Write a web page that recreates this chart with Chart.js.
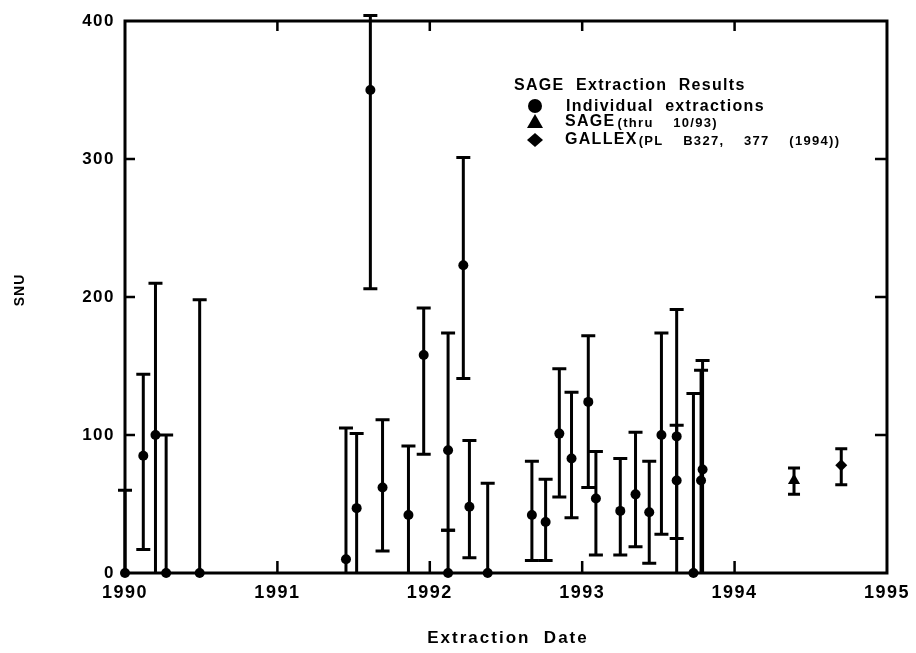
<!DOCTYPE html>
<html>
<head>
<meta charset="utf-8">
<title>SAGE Extraction Results</title>
<script src="https://cdn.jsdelivr.net/npm/chart.js@4.4.0/dist/chart.umd.min.js"></script>
<style>
  body { margin: 0; background: #fff; }
  #wrap { width: 916px; height: 653px; }
</style>
</head>
<body>
<div id="wrap"><canvas id="sageChart" width="916" height="653"></canvas></div>
<script>
// individual SAGE extractions (date, SNU, lower and upper end of error bar)
const extDates  = [1990.00, 1990.12, 1990.20, 1990.27, 1990.49, 1991.45, 1991.52, 1991.61, 1991.69, 1991.86,
                   1991.96, 1992.12, 1992.12, 1992.22, 1992.26, 1992.38, 1992.67, 1992.76, 1992.85, 1992.93,
                   1993.04, 1993.09, 1993.25, 1993.35, 1993.44, 1993.52, 1993.62, 1993.62, 1993.73, 1993.78,
                   1993.79];
const extValues = [0, 85, 100, 0, 0, 10, 47, 350, 62, 42,
                   158, 89, 0, 223, 48, 0, 42, 37, 101, 83,
                   124, 54, 45, 57, 44, 100, 99, 67, 0, 67,
                   75];
const extLow    = [0, 17, 0, 0, 0, 0, 0, 206, 16, 0,
                   86, 31, 0, 141, 11, 0, 9, 9, 55, 40,
                   62, 13, 13, 19, 7, 28, 0, 25, 0, 0,
                   0];
const extHigh   = [60, 144, 210, 100, 198, 105, 101, 404, 111, 92,
                   192, 174, 31, 301, 96, 65, 81, 68, 148, 131,
                   172, 88, 83, 102, 81, 174, 191, 107, 130, 147,
                   154];

// combined results
const sageDate = [1994.39];
const sageValue = [67];
const sageLow = [57];
const sageHigh = [76];

const gallexDate = [1994.70];
const gallexValue = [78];
const gallexLow = [64];
const gallexHigh = [90];

const yearTicks = [1990, 1991, 1992, 1993, 1994, 1995];
const snuTicks = [0, 100, 200, 300, 400];

const FONT = "'Liberation Sans', Arial, Helvetica, sans-serif";

function toPoints(xs, ys) {
    return xs.map((x, i) => ({ x: x, y: ys[i] }));
}

// error bars go under the markers
const errorBars = {
    id: 'errorBars',
    beforeDatasetsDraw(chart) {
        const ctx = chart.ctx;
        const xs = chart.scales.x;
        const ys = chart.scales.y;
        ctx.save();
        ctx.strokeStyle = '#000';
        ctx.lineCap = 'butt';
        ctx.lineWidth = 3;
        chart.data.datasets.forEach(ds => {
            ds.data.forEach((p, i) => {
                const x = xs.getPixelForValue(p.x);
                const yLo = ys.getPixelForValue(ds.errLow[i]);
                const yHi = ys.getPixelForValue(ds.errHigh[i]);
                const cap = ds.capHalf;
                ctx.beginPath();
                ctx.moveTo(x, yLo);
                ctx.lineTo(x, yHi);
                ctx.moveTo(x - cap, yHi);
                ctx.lineTo(x + cap, yHi);
                if (ds.errLow[i] > 0) {
                    ctx.moveTo(x - cap, yLo);
                    ctx.lineTo(x + cap, yLo);
                }
                ctx.stroke();
            });
        });
        ctx.restore();
    }
};

// box round the plot with inward ticks, axis titles and the legend block
const frameAndText = {
    id: 'frameAndText',
    beforeDraw(chart) {
        chart.ctx.letterSpacing = '1.5px';
    },
    afterDraw(chart) {
        const ctx = chart.ctx;
        const a = chart.chartArea;
        const xs = chart.scales.x;
        const ys = chart.scales.y;
        ctx.save();
        ctx.strokeStyle = '#000';
        ctx.lineWidth = 3;
        ctx.strokeRect(a.left, a.top, a.right - a.left, a.bottom - a.top);

        ctx.lineWidth = 2.5;
        ctx.beginPath();
        yearTicks.slice(1, -1).forEach(v => {
            const x = xs.getPixelForValue(v);
            ctx.moveTo(x, a.bottom);
            ctx.lineTo(x, a.bottom - 12);
            ctx.moveTo(x, a.top);
            ctx.lineTo(x, a.top + 10);
        });
        snuTicks.slice(1, -1).forEach(v => {
            const y = ys.getPixelForValue(v);
            ctx.moveTo(a.left, y);
            ctx.lineTo(a.left + 10, y);
            ctx.moveTo(a.right, y);
            ctx.lineTo(a.right - 12, y);
        });
        ctx.stroke();

        ctx.fillStyle = '#000';
        ctx.textBaseline = 'middle';

        // axis titles
        ctx.letterSpacing = '2px';
        ctx.font = 'bold 17px ' + FONT;
        ctx.textAlign = 'center';
        ctx.fillText('Extraction  Date', (a.left + a.right) / 2 + 2, 638);

        ctx.save();
        ctx.translate(20, 290);
        ctx.rotate(-Math.PI / 2);
        ctx.letterSpacing = '1px';
        ctx.font = 'bold 14px ' + FONT;
        ctx.fillText('SNU', 0, 0);
        ctx.restore();

        // legend
        ctx.textAlign = 'left';
        ctx.letterSpacing = '1.3px';
        ctx.font = 'bold 16px ' + FONT;
        ctx.fillText('SAGE  Extraction  Results', 514, 86);

        const mx = 535;
        ctx.beginPath();
        ctx.arc(mx, 106, 7, 0, Math.PI * 2);
        ctx.fill();
        ctx.fillText('Individual  extractions', 566, 107);

        ctx.beginPath();
        ctx.moveTo(mx, 114);
        ctx.lineTo(mx + 8, 128);
        ctx.lineTo(mx - 8, 128);
        ctx.closePath();
        ctx.fill();
        ctx.fillText('SAGE', 565, 122);
        let w = ctx.measureText('SAGE').width;
        ctx.font = 'bold 13px ' + FONT;
        ctx.fillText('(thru    10/93)', 565 + w + 2, 123);

        ctx.beginPath();
        ctx.moveTo(mx, 133);
        ctx.lineTo(mx + 8, 140);
        ctx.lineTo(mx, 147);
        ctx.lineTo(mx - 8, 140);
        ctx.closePath();
        ctx.fill();
        ctx.font = 'bold 16px ' + FONT;
        ctx.fillText('GALLEX', 565, 140);
        w = ctx.measureText('GALLEX').width;
        ctx.font = 'bold 13px ' + FONT;
        ctx.fillText('(PL    B327,    377    (1994))', 565 + w + 1, 141);

        ctx.restore();
    }
};

const ctx = document.getElementById('sageChart').getContext('2d');

new Chart(ctx, {
    type: 'scatter',
    data: {
        datasets: [
            {
                label: 'Individual extractions',
                data: toPoints(extDates, extValues),
                errLow: extLow,
                errHigh: extHigh,
                capHalf: 7,
                clip: false,
                pointStyle: 'circle',
                pointRadius: 5,
                backgroundColor: '#000',
                borderColor: '#000',
                borderWidth: 0
            },
            {
                label: 'SAGE (thru 10/93)',
                data: toPoints(sageDate, sageValue),
                errLow: sageLow,
                errHigh: sageHigh,
                capHalf: 6,
                clip: false,
                pointStyle: 'triangle',
                pointRadius: 7,
                backgroundColor: '#000',
                borderColor: '#000',
                borderWidth: 0
            },
            {
                label: 'GALLEX (PL B327, 377 (1994))',
                data: toPoints(gallexDate, gallexValue),
                errLow: gallexLow,
                errHigh: gallexHigh,
                capHalf: 6,
                clip: false,
                pointStyle: 'rectRot',
                pointRadius: 6,
                backgroundColor: '#000',
                borderColor: '#000',
                borderWidth: 0
            }
        ]
    },
    options: {
        responsive: false,
        animation: false,
        layout: { padding: { left: 0, top: 21, right: 29, bottom: 0 } },
        plugins: {
            legend: { display: false },
            tooltip: { enabled: false }
        },
        scales: {
            x: {
                type: 'linear',
                min: 1990,
                max: 1995,
                afterFit: s => { s.height = 80; },
                afterBuildTicks: s => { s.ticks = yearTicks.map(v => ({ value: v })); },
                grid: { display: false, drawTicks: false },
                border: { display: false },
                ticks: {
                    padding: 9,
                    color: '#000',
                    font: { family: FONT, size: 18, weight: 'bold' },
                    callback: v => String(v)
                }
            },
            y: {
                min: 0,
                max: 400,
                afterFit: s => { s.width = 125; },
                afterBuildTicks: s => { s.ticks = snuTicks.map(v => ({ value: v })); },
                grid: { display: false, drawTicks: false },
                border: { display: false },
                ticks: {
                    padding: 10,
                    color: '#000',
                    font: { family: FONT, size: 17, weight: 'bold' },
                    callback: v => String(v)
                }
            }
        }
    },
    plugins: [errorBars, frameAndText]
});
</script>
</body>
</html>
